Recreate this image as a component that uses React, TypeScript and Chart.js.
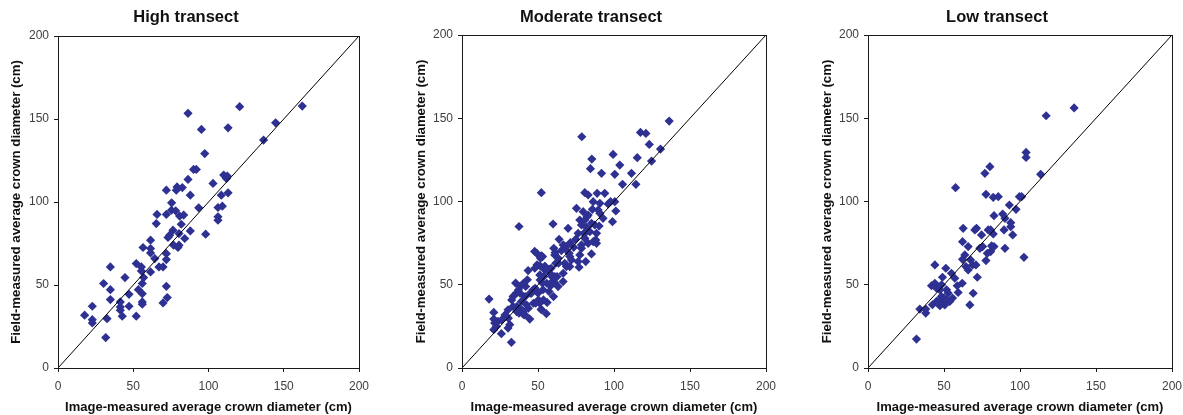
import React, { useEffect, useRef } from "react";
import { Chart, registerables } from "chart.js";

Chart.register(...registerables);

// ---------- data ----------
const PANEL_TITLES = ["High transect", "Moderate transect", "Low transect"];
const X_AXIS_TITLE = "Image-measured average crown diameter (cm)";
const Y_AXIS_TITLE = "Field-measured average crown diameter (cm)";
const AXIS_TICKS = [0, 50, 100, 150, 200];
const ONE_TO_ONE = [0, 200];

const HIGH: [number, number][] = [
  [17.7, 31.8], [22.8, 37.2], [22.8, 29.1], [22.8, 27.1], [30.3, 50.9], [32.6, 29.7], [31.7, 18.3],
  [34.8, 60.9], [34.8, 47.2], [34.8, 41.2], [41.4, 39.8], [41.4, 36.8], [41.4, 34.8], [42.7, 31.2],
  [44.5, 54.5], [47.2, 44.4], [47.2, 37.2], [52.0, 62.9], [52.0, 31.2], [53.4, 47.2], [55.4, 60.9],
  [55.4, 58.5], [56.0, 50.9], [56.0, 44.8], [56.0, 39.8], [56.0, 38.4], [56.9, 54.5], [56.5, 72.6],
  [61.5, 77.0], [61.5, 72.0], [61.5, 69.3], [61.5, 57.9], [64.3, 65.9], [65.3, 87.0], [65.8, 92.5],
  [67.1, 60.9], [69.8, 60.9], [69.8, 39.2], [72.0, 107.1], [72.0, 92.5], [72.0, 68.9], [72.0, 65.3],
  [72.0, 49.2], [72.6, 42.4], [73.1, 78.6], [74.2, 80.0], [75.4, 95.1], [75.5, 99.5], [76.4, 83.0],
  [76.8, 74.0], [78.2, 94.7], [78.6, 107.1], [79.1, 109.1], [79.7, 72.6], [80.4, 74.0], [80.4, 81.0],
  [80.8, 91.5], [81.9, 86.6], [82.6, 108.7], [83.5, 92.1], [84.2, 78.0], [86.4, 113.6], [86.4, 153.4],
  [87.9, 104.1], [87.9, 82.6], [90.1, 119.6], [91.9, 119.6], [93.5, 96.5], [95.3, 143.7], [97.5, 129.2],
  [98.1, 80.6], [103.0, 111.2], [106.3, 96.7], [106.3, 91.1], [106.3, 89.0], [108.5, 104.1],
  [109.2, 97.5], [110.1, 116.2], [111.9, 114.2], [112.5, 115.6], [113.0, 105.5], [113.0, 144.7],
  [120.7, 157.4], [136.6, 137.3], [144.6, 147.7], [162.3, 157.8],
];

const MODERATE: [number, number][] = [
  [17.8, 41.4], [20.9, 33.4], [20.9, 29.4], [21.5, 27.0], [20.9, 23.0], [22.6, 25.0], [23.7, 28.0],
  [25.9, 20.6], [30.3, 35.0], [30.3, 24.0], [31.4, 26.0], [32.5, 15.4], [33.6, 37.0], [33.6, 43.0],
  [35.3, 51.0], [35.8, 45.0], [36.2, 37.0], [37.5, 33.0], [37.5, 85.0], [38.4, 49.0], [39.1, 40.0],
  [40.2, 34.0], [40.6, 32.0], [41.9, 49.0], [42.4, 38.0], [43.0, 53.0], [43.5, 58.5], [44.6, 29.4],
  [45.7, 45.0], [46.8, 47.0], [47.8, 70.0], [48.5, 39.0], [49.4, 62.0], [50.0, 45.0], [51.1, 39.0],
  [51.6, 66.0], [52.2, 67.4], [52.2, 105.3], [52.2, 35.0], [52.9, 51.0], [53.3, 47.0], [53.8, 55.0],
  [54.4, 61.0], [55.5, 32.6], [56.0, 39.4], [57.3, 59.3], [58.2, 49.3], [59.5, 52.0], [59.9, 86.5],
  [60.4, 71.9], [61.0, 67.9], [61.7, 62.9], [62.6, 54.9], [63.2, 48.9], [63.9, 77.3], [65.4, 70.5],
  [66.5, 51.9], [67.6, 62.9], [68.3, 72.9], [68.7, 60.9], [69.8, 83.9], [70.5, 68.9], [71.3, 75.3],
  [72.0, 64.9], [73.5, 72.5], [74.8, 77.3], [75.3, 95.9], [76.4, 80.9], [77.0, 60.5], [77.5, 88.9],
  [78.6, 71.9], [78.8, 138.9], [79.7, 93.9], [80.1, 80.9], [80.8, 105.3], [81.4, 63.9], [81.9, 84.5],
  [82.3, 90.9], [83.0, 103.9], [84.1, 81.9], [84.5, 119.7], [85.2, 68.5], [85.4, 125.5], [85.8, 95.3],
  [86.3, 99.9], [87.4, 85.9], [88.0, 76.9], [88.5, 74.9], [88.9, 104.9], [89.6, 94.9], [90.2, 85.3],
  [91.8, 116.9], [92.8, 89.9], [93.9, 104.9], [96.1, 98.5], [97.7, 99.9], [99.0, 87.9], [99.4, 128.3],
  [100.5, 116.3], [100.5, 99.9], [101.2, 94.3], [103.8, 121.9], [105.6, 110.3], [111.5, 116.9],
  [114.4, 110.3], [115.3, 126.3], [117.4, 141.5], [121.0, 140.9], [123.2, 134.3], [124.7, 124.3],
  [130.6, 131.5], [136.3, 148.3],
  [49.2, 68.9], [53.0, 66.9], [51.4, 61.3], [54.7, 60.9], [58.6, 59.9], [61.3, 69.3], [63.5, 62.9],
  [59.1, 54.9], [61.3, 50.9], [55.8, 50.9], [51.4, 52.9], [48.1, 47.9], [44.8, 44.9], [41.5, 42.9],
  [38.9, 35.3], [43.7, 35.9], [47.0, 38.9], [50.3, 40.9], [53.6, 40.9], [52.1, 35.3], [41.5, 31.9],
  [36.0, 33.9], [37.1, 46.9], [30.5, 29.9], [26.1, 28.9], [40.4, 50.9], [38.2, 44.9], [32.7, 40.9],
  [28.3, 31.9], [57.3, 45.9], [60.2, 42.9],
  [90.7, 98.9], [83.0, 91.9], [80.8, 88.9], [90.7, 92.9], [78.6, 85.9], [85.2, 86.9], [81.9, 81.9],
  [88.5, 80.9], [80.8, 77.9], [83.0, 74.9], [86.3, 75.9], [66.6, 73.9], [78.6, 73.9], [68.7, 70.9],
  [63.3, 65.9], [70.9, 66.9], [77.5, 67.9], [76.4, 63.9], [70.9, 60.9], [47.9, 59.9], [54.5, 58.9],
  [66.6, 56.9], [57.8, 56.9], [51.2, 55.9], [61.1, 54.9],
];

const LOW: [number, number][] = [
  [31.9, 17.4], [34.1, 35.4], [38.0, 33.0], [38.0, 35.4], [42.4, 38.0], [41.8, 49.4], [44.0, 61.9],
  [44.0, 50.9], [45.1, 47.9], [45.1, 40.0], [47.3, 41.0], [47.3, 37.4], [48.4, 50.0], [49.0, 54.5],
  [49.5, 40.0], [49.9, 42.0], [51.2, 59.9], [51.7, 47.0], [52.7, 45.0], [53.8, 40.0], [54.9, 56.9],
  [55.6, 42.0], [57.1, 53.9], [57.6, 108.3], [58.7, 49.4], [59.3, 45.4], [62.0, 50.9], [62.2, 75.9],
  [62.6, 83.9], [62.2, 65.3], [63.7, 67.9], [64.4, 60.9], [65.9, 72.9], [65.9, 58.9], [67.0, 37.9],
  [67.5, 64.9], [68.8, 61.9], [69.2, 44.9], [70.3, 82.9], [71.0, 61.9], [71.4, 83.9], [71.9, 54.5],
  [73.6, 71.9], [74.7, 79.9], [75.4, 72.9], [76.9, 116.9], [77.6, 104.3], [77.6, 64.5], [78.5, 68.9],
  [79.1, 82.9], [80.2, 120.9], [80.7, 69.9], [80.7, 82.9], [81.3, 73.3], [82.4, 80.5], [82.9, 72.9],
  [82.4, 102.5], [82.9, 91.5], [85.7, 102.9], [88.6, 92.5], [89.5, 82.9], [90.1, 89.9], [90.1, 71.9],
  [93.0, 97.9], [93.9, 87.3], [93.9, 84.9], [95.2, 79.9], [97.4, 95.3], [99.6, 102.9], [101.1, 102.9],
  [102.6, 66.5], [104.0, 126.5], [104.0, 129.5], [113.6, 116.3], [117.2, 151.5], [135.6, 156.2],
  [47.3, 46.9], [48.3, 42.9], [51.6, 40.9], [46.1, 38.9], [50.5, 37.9],
];

const SERIES = [HIGH, MODERATE, LOW];

// ---------- styling / layout ----------
const FONT = "'Liberation Sans', Arial, Helvetica, sans-serif";
const MARKER = "#2E3192";
const CANVAS_H = 415;
const PANELS = [
  { left: -8, width: 388, L: 66, R: 367, T: 36, B: 368, titleX: 194 },
  { left: 397, width: 388, L: 65, R: 369, T: 35, B: 368, titleX: 194 },
  { left: 803, width: 388, L: 65, R: 369, T: 35, B: 368, titleX: 194 },
];

const boxPlugin = {
  id: "plotBox",
  afterDatasetsDraw(chart: any) {
    const { ctx, chartArea } = chart;
    const l = Math.round(chartArea.left);
    const t = Math.round(chartArea.top);
    const r = Math.round(chartArea.right);
    const b = Math.round(chartArea.bottom);
    ctx.save();
    ctx.strokeStyle = "#1a1a1a";
    ctx.lineWidth = 1;
    ctx.strokeRect(l + 0.5, t + 0.5, r - l, b - t);
    ctx.restore();
  },
};

function Panel({ idx }: { idx: number }) {
  const ref = useRef<HTMLCanvasElement | null>(null);
  const p = PANELS[idx];
  useEffect(() => {
    if (!ref.current) return;
    const setTicks = (s: any) => {
      s.ticks = AXIS_TICKS.map((v) => ({ value: v }));
    };
    const titlePlugin = {
      id: "panelTitle",
      afterDraw(chart: any) {
        const { ctx } = chart;
        ctx.save();
        ctx.fillStyle = "#111";
        ctx.font = `bold 16.5px ${FONT}`;
        ctx.textAlign = "center";
        ctx.textBaseline = "middle";
        ctx.fillText(PANEL_TITLES[idx], p.titleX, 17.5);
        ctx.restore();
      },
    };
    const chart = new Chart(ref.current, {
      type: "scatter",
      data: {
        datasets: [
          {
            data: ONE_TO_ONE.map((v) => ({ x: v, y: v })),
            showLine: true,
            borderColor: "#000",
            borderWidth: 1,
            pointRadius: 0,
            fill: false,
          } as any,
          {
            data: SERIES[idx].map(([x, y]) => ({ x, y })),
            pointStyle: "rectRot",
            pointRadius: 4.6,
            backgroundColor: MARKER,
            borderColor: MARKER,
            borderWidth: 0,
          } as any,
        ],
      },
      options: {
        animation: false,
        responsive: false,
        maintainAspectRatio: false,
        layout: { padding: { left: 0, top: p.T, right: p.width - p.R, bottom: 0 } },
        plugins: {
          legend: { display: false },
          tooltip: { enabled: false },
          title: { display: false },
        },
        scales: {
          x: {
            type: "linear",
            min: 0,
            max: 200,
            afterBuildTicks: setTicks,
            afterFit: (s: any) => {
              s.height = CANVAS_H - p.B;
            },
            grid: { drawOnChartArea: false, drawTicks: true, tickLength: 4, color: "#1a1a1a" },
            border: { display: false },
            ticks: { font: { family: FONT, size: 12 }, color: "#404040", padding: 7, maxRotation: 0 },
            title: {
              display: true,
              text: X_AXIS_TITLE,
              color: "#111",
              font: { family: FONT, size: 13, weight: "bold" },
              padding: { top: 0, bottom: 0 },
            },
          },
          y: {
            type: "linear",
            min: 0,
            max: 200,
            afterBuildTicks: setTicks,
            afterFit: (s: any) => {
              s.width = p.L;
            },
            grid: { drawOnChartArea: false, drawTicks: true, tickLength: 4, color: "#1a1a1a" },
            border: { display: false },
            ticks: { font: { family: FONT, size: 12 }, color: "#404040", padding: 5 },
            title: {
              display: true,
              text: Y_AXIS_TITLE,
              color: "#111",
              font: { family: FONT, size: 13.2, weight: "bold" },
              padding: { top: 16, bottom: 0 },
            },
          },
        },
      } as any,
      plugins: [boxPlugin, titlePlugin],
    });
    return () => chart.destroy();
  }, [idx]);
  return (
    <canvas
      ref={ref}
      width={p.width}
      height={CANVAS_H}
      style={{ position: "absolute", left: p.left, top: 0, width: p.width, height: CANVAS_H, display: "block" }}
    />
  );
}

export default function App() {
  return (
    <div style={{ position: "absolute", left: 0, top: 0, width: 1183, height: 415, background: "#fff", overflow: "hidden" }}>
      {PANEL_TITLES.map((_, i) => (
        <Panel key={i} idx={i} />
      ))}
    </div>
  );
}
